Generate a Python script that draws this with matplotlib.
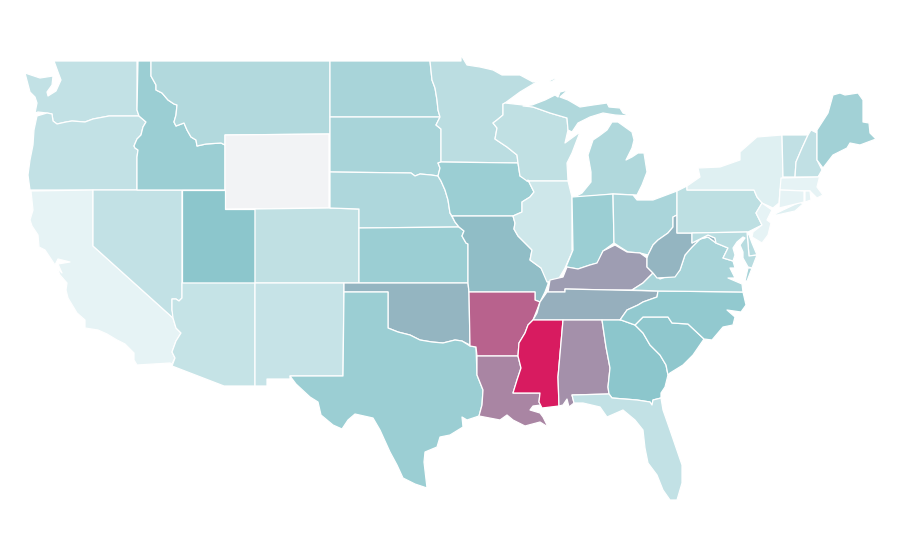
#!/usr/bin/env python3
"""Choropleth of the lower 48 states, outlines traced in image pixels."""

import matplotlib
matplotlib.use("Agg")
import matplotlib.pyplot as plt
from matplotlib.collections import PolyCollection
from matplotlib.colors import LinearSegmentedColormap

states = ["WA", "OR", "CA", "NV", "ID", "MT", "WY", "UT", "AZ", "CO", "NM", "ND", "SD",
          "NE", "KS", "OK", "TX", "MN", "IA", "MO", "AR", "LA", "WI", "IL", "MI", "IN",
          "OH", "KY", "TN", "MS", "AL", "GA", "FL", "SC", "NC", "VA", "WV", "PA", "NY",
          "VT", "NH", "ME", "MA", "CT", "RI", "NJ", "DE", "MD"]
values = [16.5, 16.5, 4.1, 16.5, 29.9, 22, 0, 35, 15.5, 17.5, 15, 25.7, 25.7,
          23.3, 30, 41.5, 29.9, 19, 29.9, 38.3, 73, 59.7, 17.5, 12.4, 23, 29.9,
          24.7, 50.6, 43.8, 100, 55.8, 35, 16.5, 34, 33.2, 25.7, 41.5, 18.2, 6.5,
          17, 17, 27.4, 4, 4, 4, 4, 20, 20]

# outlines as (x, y) in image pixels; no geodata available offline
outlines = {
    "WA": [[(54, 61), (137, 61), (137, 110), (139, 116), (109, 116), (93, 119), (85, 122), (72, 121),
            (66, 122), (57, 124), (53, 121), (52, 114), (47, 113), (38, 112), (35, 113), (37, 103),
            (35, 97), (30, 92), (25, 73), (40, 78), (53, 76), (52, 85), (47, 92), (48, 96), (56, 91),
            (61, 80), (58, 72)]],
    "OR": [[(37, 116), (47, 113), (52, 114), (53, 121), (57, 124), (66, 122), (72, 121), (85, 122),
            (93, 119), (109, 116), (139, 116), (146, 122), (143, 127), (141, 135), (137, 139), (134, 146),
            (135, 148), (138, 150), (137, 157), (137, 190), (30, 190), (28, 175), (30, 160), (33, 145),
            (34, 130)]],
    "CA": [[(31, 191), (93, 190), (93, 246), (173, 318), (176, 328), (181, 333), (176, 341), (172, 352),
            (175, 358), (172, 364), (170, 363), (137, 365), (134, 360), (134, 353), (125, 344), (117, 340),
            (107, 334), (98, 330), (85, 328), (85, 320), (77, 313), (68, 298), (66, 290), (67, 283),
            (60, 275), (57, 268), (62, 273), (58, 264), (70, 262), (58, 259), (55, 265), (45, 250),
            (39, 247), (38, 235), (32, 226), (30, 220), (33, 210)]],
    "NV": [[(93, 190), (182, 190), (182, 298), (179, 301), (176, 299), (172, 299), (172, 310), (174, 318),
            (173, 318), (93, 246)]],
    "ID": [[(138, 61), (151, 61), (151, 76), (156, 85), (156, 90), (162, 93), (168, 100), (174, 104),
            (177, 105), (176, 115), (174, 122), (176, 126), (184, 123), (187, 130), (191, 137), (196, 140),
            (197, 146), (206, 144), (221, 143), (225, 145), (225, 190), (137, 190), (137, 157), (138, 150),
            (135, 148), (134, 146), (137, 139), (141, 135), (143, 127), (146, 122), (139, 116), (137, 110)]],
    "MT": [[(151, 61), (330, 61), (330, 134), (225, 135), (225, 145), (221, 143), (206, 144), (197, 146),
            (196, 140), (191, 137), (187, 130), (184, 123), (176, 126), (174, 122), (176, 115), (177, 105),
            (174, 104), (168, 100), (162, 93), (156, 90), (156, 85), (151, 76)]],
    "WY": [[(225, 135), (329, 134), (329, 208), (225, 209)]],
    "UT": [[(182, 190), (225, 190), (225, 209), (255, 209), (255, 283), (182, 283)]],
    "AZ": [[(182, 283), (255, 283), (255, 386), (224, 386), (172, 366), (175, 358), (172, 352), (176, 341),
            (181, 333), (176, 328), (173, 318), (172, 310), (172, 299), (176, 299), (179, 301), (182, 298)]],
    "CO": [[(255, 209), (329, 208), (359, 209), (359, 283), (255, 283)]],
    "NM": [[(255, 283), (344, 283), (343, 376), (290, 376), (290, 379), (267, 379), (267, 386), (255, 386)]],
    "ND": [[(330, 61), (430, 61), (432, 80), (435, 88), (437, 100), (438, 110), (440, 117), (330, 117)]],
    "SD": [[(330, 117), (440, 117), (436, 125), (441, 129), (441, 162), (438, 163), (440, 168), (438, 176),
            (431, 175), (420, 174), (415, 176), (411, 173), (330, 172)]],
    "NE": [[(330, 172), (411, 173), (415, 176), (420, 174), (431, 175), (438, 176), (441, 181), (445, 190),
            (448, 200), (450, 213), (455, 222), (459, 227), (359, 228), (359, 209), (330, 208)]],
    "KS": [[(359, 228), (459, 227), (464, 231), (462, 236), (466, 243), (468, 244), (468, 283), (359, 283)]],
    "OK": [[(344, 283), (468, 283), (469, 292), (470, 345), (462, 341), (455, 340), (443, 343), (432, 342),
            (420, 340), (410, 335), (398, 332), (388, 328), (388, 292), (344, 292)]],
    "TX": [[(344, 292), (388, 292), (388, 328), (398, 332), (410, 335), (420, 340), (432, 342), (443, 343),
            (455, 340), (462, 341), (470, 346), (476, 347), (477, 375), (483, 390), (482, 405), (479, 416),
            (467, 420), (462, 417), (463, 427), (450, 435), (440, 437), (437, 447), (425, 452), (424, 462),
            (427, 488), (415, 484), (403, 478), (397, 465), (390, 452), (380, 430), (373, 418), (355, 414),
            (348, 420), (342, 429), (333, 425), (321, 415), (318, 402), (310, 397), (296, 384), (290, 376),
            (343, 376)]],
    "MN": [[(430, 61), (461, 61), (461, 55), (467, 65), (480, 67), (493, 70), (502, 75), (520, 75), (533, 82),
            (540, 80), (520, 92), (505, 103), (503, 104), (503, 115), (497, 120), (493, 123), (497, 128),
            (495, 139), (507, 147), (517, 155), (518, 163), (441, 162), (441, 129), (436, 125), (440, 117),
            (438, 110), (437, 100), (435, 88), (432, 80)]],
    "IA": [[(441, 162), (518, 163), (520, 176), (528, 180), (534, 192), (530, 197), (522, 202), (522, 212),
            (513, 216), (452, 216), (450, 213), (448, 200), (445, 190), (441, 181), (438, 176), (440, 168),
            (438, 163)]],
    "MO": [[(452, 216), (513, 216), (515, 223), (514, 229), (518, 236), (525, 243), (532, 250), (530, 260),
            (541, 268), (548, 280), (548, 284), (545, 292), (540, 302), (535, 300), (535, 292), (469, 292),
            (468, 283), (468, 244), (466, 243), (462, 236), (464, 231), (459, 227), (455, 222)]],
    "AR": [[(469, 292), (535, 292), (535, 300), (540, 302), (537, 310), (533, 320), (528, 325), (525, 333),
            (519, 343), (518, 356), (477, 356), (476, 347), (470, 346)]],
    "LA": [[(477, 356), (518, 356), (521, 368), (517, 380), (513, 393), (540, 393), (539, 402), (541, 405),
            (533, 406), (530, 410), (540, 413), (543, 417), (548, 427), (540, 422), (525, 426), (513, 420),
            (507, 415), (500, 420), (479, 416), (482, 405), (483, 390), (477, 375)]],
    "WI": [[(503, 104), (505, 103), (523, 105), (533, 107), (550, 113), (567, 118), (568, 130), (565, 143),
            (580, 132), (572, 153), (567, 163), (568, 181), (527, 181), (520, 176), (518, 163), (517, 155),
            (507, 147), (495, 139), (497, 128), (493, 123), (497, 120), (503, 115)]],
    "IL": [[(527, 181), (568, 181), (572, 197), (572, 250), (573, 250), (565, 268), (558, 280), (547, 282),
            (541, 268), (530, 260), (532, 250), (525, 243), (518, 236), (514, 229), (515, 223), (513, 216),
            (522, 212), (522, 202), (530, 197), (534, 192), (528, 180)]],
    "MI": [[(573, 198), (582, 193), (591, 182), (591, 172), (588, 155), (593, 140), (599, 136), (607, 130),
            (612, 122), (618, 122), (632, 132), (634, 140), (632, 148), (626, 160), (632, 157), (638, 153),
            (644, 153), (647, 172), (642, 185), (637, 195), (613, 194)],
           [(523, 106), (532, 105), (545, 100), (555, 95), (558, 97), (560, 92), (568, 90), (560, 97),
            (568, 100), (580, 107), (593, 105), (607, 103), (609, 107), (620, 108), (623, 113), (630, 116),
            (615, 115), (603, 113), (590, 117), (578, 123), (572, 132), (568, 130), (567, 118), (550, 113),
            (533, 107)],
           [(549, 81), (555, 78), (556, 79), (551, 82)]],
    "IN": [[(572, 197), (613, 194), (614, 243), (603, 251), (598, 263), (590, 265), (578, 269), (566, 267),
            (573, 250)]],
    "OH": [[(613, 194), (633, 195), (637, 200), (653, 200), (677, 191), (677, 215), (673, 217), (673, 227),
            (668, 233), (658, 240), (653, 245), (648, 255), (640, 253), (628, 252), (620, 247), (614, 243)]],
    "KY": [[(548, 292), (550, 280), (563, 277), (567, 267), (578, 269), (590, 265), (597, 263), (603, 251),
            (615, 245), (627, 252), (640, 253), (647, 258), (647, 267), (653, 273), (643, 283), (632, 290),
            (608, 290), (565, 289), (565, 292)]],
    "TN": [[(540, 302), (547, 292), (565, 292), (565, 289), (658, 291), (657, 297), (643, 302), (638, 305),
            (627, 310), (620, 320), (533, 320), (537, 313)]],
    "MS": [[(533, 320), (563, 320), (558, 377), (559, 406), (542, 408), (539, 402), (540, 393), (513, 393),
            (517, 380), (521, 368), (518, 356), (519, 343), (525, 333), (528, 325)]],
    "AL": [[(563, 320), (602, 320), (606, 347), (610, 368), (608, 387), (609, 394), (572, 395), (574, 403),
            (569, 407), (567, 399), (563, 405), (559, 406), (558, 377)]],
    "GA": [[(602, 320), (621, 320), (635, 325), (643, 333), (650, 345), (660, 355), (666, 365), (668, 375),
            (665, 387), (661, 393), (661, 398), (653, 400), (652, 405), (650, 402), (637, 400), (612, 398),
            (609, 394), (608, 387), (610, 368), (606, 347)]],
    "FL": [[(572, 395), (609, 394), (612, 398), (637, 400), (650, 402), (652, 405), (653, 400), (661, 398),
            (663, 410), (670, 430), (682, 465), (682, 483), (677, 500), (670, 500), (663, 490), (657, 475),
            (648, 463), (645, 448), (643, 430), (635, 420), (623, 410), (607, 417), (600, 407), (583, 403),
            (574, 403)]],
    "SC": [[(635, 325), (643, 317), (668, 317), (672, 323), (688, 324), (704, 339), (693, 355), (683, 365),
            (670, 373), (668, 375), (666, 365), (660, 355), (650, 345), (643, 333)]],
    "NC": [[(658, 291), (743, 292), (746, 305), (741, 312), (727, 310), (735, 317), (733, 325), (723, 327),
            (712, 340), (704, 339), (688, 324), (672, 323), (668, 317), (643, 317), (635, 325), (621, 320),
            (620, 320), (627, 310), (638, 305), (643, 302), (657, 297)]],
    "VA": [[(632, 290), (643, 283), (653, 273), (660, 279), (677, 273), (680, 270), (685, 255), (692, 247),
            (700, 239), (708, 237), (716, 243), (728, 248), (723, 258), (733, 261), (735, 268), (730, 268),
            (735, 278), (728, 278), (742, 284), (743, 292), (658, 291)],
           [(748, 268), (752, 268), (747, 281), (745, 281)]],
    "WV": [[(653, 273), (647, 267), (647, 258), (648, 255), (653, 245), (658, 240), (668, 233), (673, 227),
            (673, 217), (677, 215), (677, 233), (692, 233), (692, 243), (708, 235), (715, 238), (716, 243),
            (708, 237), (700, 239), (692, 247), (685, 255), (680, 270), (675, 277), (657, 278)]],
    "PA": [[(677, 191), (687, 186), (687, 190), (754, 190), (757, 197), (762, 203), (756, 213), (762, 225),
            (748, 232), (692, 233), (677, 233)]],
    "NY": [[(687, 186), (700, 177), (698, 168), (720, 167), (740, 160), (740, 152), (757, 137), (782, 135),
            (783, 177), (780, 190), (779, 203), (773, 208), (762, 203), (757, 197), (754, 190), (687, 190)],
           [(773, 215), (783, 210), (800, 202), (803, 204), (795, 211), (777, 215)]],
    "VT": [[(782, 135), (808, 135), (802, 148), (796, 162), (795, 177), (783, 177)]],
    "NH": [[(811, 130), (817, 133), (817, 160), (822, 170), (818, 177), (795, 177), (796, 162), (802, 148),
            (808, 135)]],
    "ME": [[(817, 130), (828, 113), (833, 95), (840, 93), (845, 95), (858, 93), (863, 100), (863, 122),
            (869, 123), (870, 133), (876, 139), (860, 145), (850, 143), (847, 148), (833, 155), (823, 168),
            (817, 160)]],
    "MA": [[(781, 178), (818, 177), (820, 175), (817, 187), (823, 195), (817, 198), (810, 191), (780, 190)]],
    "CT": [[(780, 190), (804, 191), (804, 202), (779, 208)]],
    "RI": [[(805, 191), (810, 191), (811, 200), (805, 202)]],
    "NJ": [[(762, 203), (772, 210), (767, 220), (771, 223), (768, 235), (762, 243), (752, 237), (753, 232),
            (762, 225), (756, 213)]],
    "DE": [[(747, 232), (749, 235), (752, 243), (757, 255), (749, 256)]],
    "MD": [[(692, 233), (747, 232), (749, 256), (757, 255), (752, 268), (748, 267), (743, 258), (743, 252),
            (740, 245), (745, 238), (743, 237), (737, 242), (733, 248), (735, 255), (733, 261), (723, 258),
            (728, 248), (716, 243), (715, 238), (708, 235), (692, 243)]],
}

cmap = LinearSegmentedColormap.from_list(
    "teal_red", [(0, "#f2f3f5"), (0.04, "#e6f3f5"), (0.35, "#8cc6cc"), (1, "#d81b60")])

polys, poly_values = [], []
for name, val in zip(states, values):
    for part in outlines[name]:
        polys.append(part)
        poly_values.append(val)

fig = plt.figure(figsize=(9, 5.6), dpi=100)
ax = fig.add_axes([0, 0, 1, 1])
coll = PolyCollection(polys, array=poly_values, cmap=cmap, edgecolors="white", linewidths=0.9)
coll.set_clim(0, 100)
ax.add_collection(coll)
ax.set_xlim(0, 900)
ax.set_ylim(560, 0)
ax.axis("off")
fig.savefig("out.png", dpi=100)
